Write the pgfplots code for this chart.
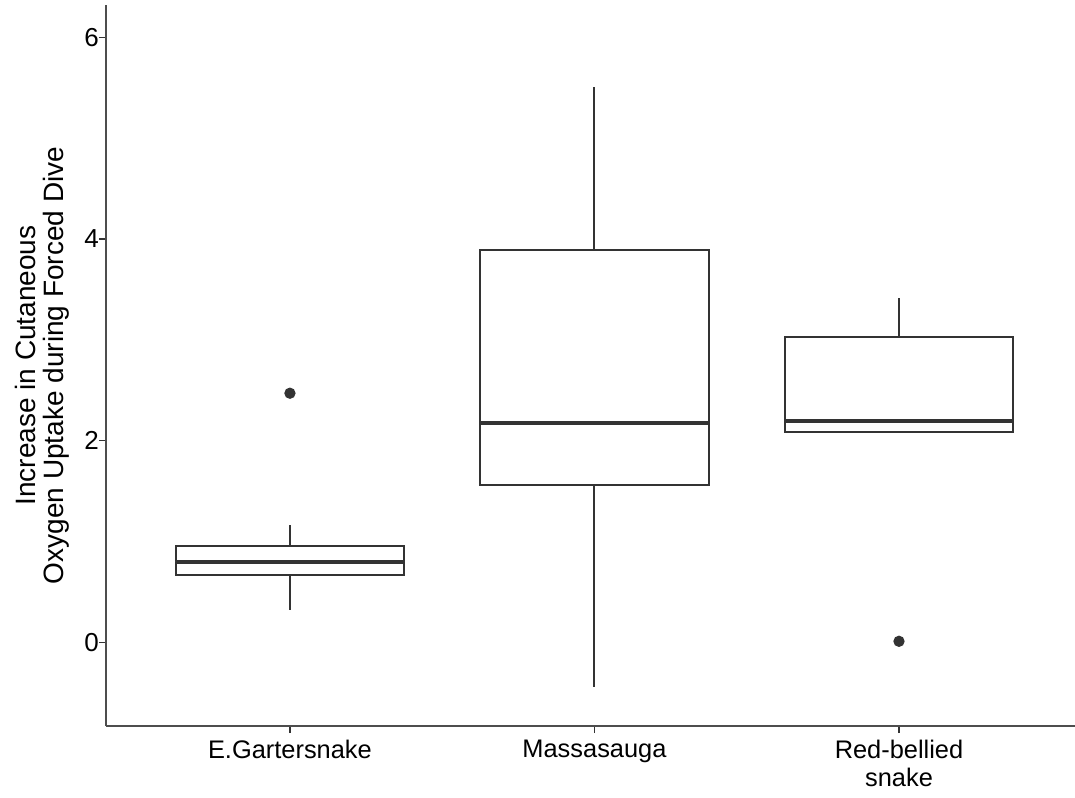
\documentclass[border=0pt]{standalone}
\usepackage{fontspec}
\setmainfont{Liberation Sans}
\usepackage{pgfplots}
\pgfplotsset{compat=1.18}
\usepgfplotslibrary{statistics}
\definecolor{boxgray}{HTML}{333333}
\definecolor{axisgray}{HTML}{4D4D4D}
\begin{document}
\begin{tikzpicture}
\path[use as bounding box] (-53pt,-35.5pt) rectangle (484.5pt,363pt);
\begin{axis}[
  scale only axis,
  width=484.5pt, height=360.5pt,
  xmin=0.396, xmax=3.578,
  ymin=-0.83, ymax=6.32,
  axis lines=left,
  axis line style={-, draw=axisgray, line width=0.6pt},
  tick align=outside,
  major tick length=3.5pt,
  tick style={draw=boxgray, line width=0.6pt},
  xtick={1,2,3},
  xticklabels={E.Gartersnake, Massasauga, {Red-bellied\\snake}},
  xticklabel style={align=center, font=\fontsize{12.7}{14}\selectfont, text=black},
  ytick={0,2,4,6},
  yticklabel style={font=\fontsize{13}{14}\selectfont, text=black, xshift=3.5pt},
  /pgf/number format/assume math mode=true,
  every axis y label/.style={
    at={(axis description cs:-0.066,0.5)},
    anchor=center, rotate=90, align=center,
    font=\fontsize{14}{14}\selectfont},
  ylabel={Increase in Cutaneous\\Oxygen Uptake during Forced Dive},
  boxplot/draw direction=y,
  boxplot/box extend=0.75,
  boxplot/whisker extend=0,
  boxplot/every median/.style={line width=2pt},
  clip=false,
]
% E. Gartersnake
\addplot[draw=boxgray, fill=white, line width=1pt, solid,
  mark=*, mark size=2.3pt, mark options={fill=boxgray, draw=boxgray},
  boxplot prepared={
    lower whisker=0.325, lower quartile=0.665, median=0.797,
    upper quartile=0.953, upper whisker=1.168, draw position=1}]
  coordinates {(0,2.47)};
% Massasauga
\addplot[draw=boxgray, fill=white, line width=1pt, solid,
  boxplot prepared={
    lower whisker=-0.44, lower quartile=1.56, median=2.17,
    upper quartile=3.89, upper whisker=5.51, draw position=2}]
  coordinates {};
% Red-bellied snake
\addplot[draw=boxgray, fill=white, line width=1pt, solid,
  mark=*, mark size=2.3pt, mark options={fill=boxgray, draw=boxgray},
  boxplot prepared={
    lower whisker=2.09, lower quartile=2.09, median=2.195,
    upper quartile=3.03, upper whisker=3.41, draw position=3}]
  coordinates {(0,0.01)};
\end{axis}
\end{tikzpicture}
\end{document}
